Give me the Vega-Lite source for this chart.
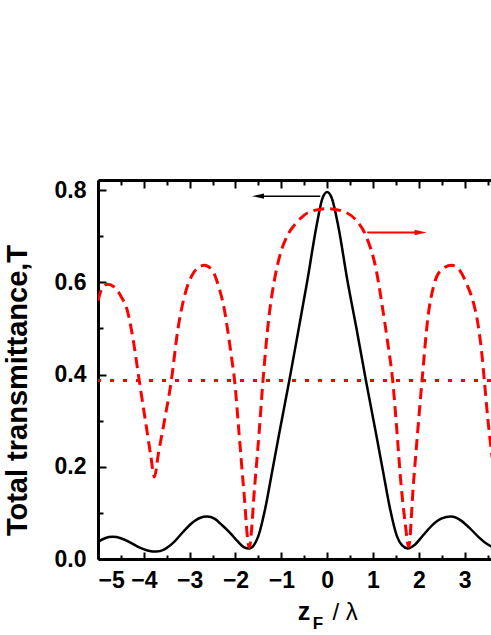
{
  "$schema": "https://vega.github.io/schema/vega-lite/v6.json",
  "width": 393,
  "height": 379,
  "autosize": {"type": "none"},
  "padding": {"left": 98, "top": 180, "right": 0, "bottom": 76},
  "background": "white",
  "config": {
    "view": {"stroke": null},
    "font": "Liberation Sans",
    "axis": {
      "grid": false,
      "ticks": true,
      "domainColor": "black",
      "domainWidth": 3,
      "tickColor": "black",
      "tickWidth": 2,
      "labelColor": "black",
      "labelFont": "Liberation Sans",
      "labelFontWeight": "bold",
      "labelFontSize": 23,
      "labelOverlap": false,
      "titleColor": "black",
      "titleFont": "Liberation Sans"
    }
  },
  "datasets": {
    "black": [
      {"z": -5.0, "T": 0.037}, {"z": -4.85, "T": 0.045}, {"z": -4.68, "T": 0.048}, {"z": -4.5, "T": 0.045},
      {"z": -4.3, "T": 0.036}, {"z": -4.1, "T": 0.025}, {"z": -3.9, "T": 0.018}, {"z": -3.73, "T": 0.016},
      {"z": -3.55, "T": 0.021}, {"z": -3.35, "T": 0.036}, {"z": -3.15, "T": 0.058}, {"z": -2.95, "T": 0.078},
      {"z": -2.78, "T": 0.089}, {"z": -2.62, "T": 0.092}, {"z": -2.45, "T": 0.087}, {"z": -2.3, "T": 0.074},
      {"z": -2.13, "T": 0.058}, {"z": -1.95, "T": 0.038}, {"z": -1.82, "T": 0.026}, {"z": -1.7, "T": 0.023},
      {"z": -1.6, "T": 0.03}, {"z": -1.5, "T": 0.05}, {"z": -1.35, "T": 0.11}, {"z": -1.2, "T": 0.19},
      {"z": -1.05, "T": 0.27}, {"z": -0.83, "T": 0.385}, {"z": -0.62, "T": 0.5}, {"z": -0.43, "T": 0.605},
      {"z": -0.24, "T": 0.718}, {"z": -0.1, "T": 0.783}, {"z": 0.0, "T": 0.796}, {"z": 0.1, "T": 0.783},
      {"z": 0.25, "T": 0.718}, {"z": 0.44, "T": 0.605}, {"z": 0.64, "T": 0.5}, {"z": 0.85, "T": 0.385},
      {"z": 1.07, "T": 0.27}, {"z": 1.22, "T": 0.19}, {"z": 1.37, "T": 0.11}, {"z": 1.52, "T": 0.05},
      {"z": 1.63, "T": 0.03}, {"z": 1.76, "T": 0.023}, {"z": 1.9, "T": 0.03}, {"z": 2.1, "T": 0.052},
      {"z": 2.3, "T": 0.074}, {"z": 2.5, "T": 0.088}, {"z": 2.7, "T": 0.092}, {"z": 2.9, "T": 0.085},
      {"z": 3.1, "T": 0.068}, {"z": 3.3, "T": 0.048}, {"z": 3.45, "T": 0.035}, {"z": 3.6, "T": 0.026}
    ],
    "red": [
      {"z": -5.0, "T": 0.56}, {"z": -4.92, "T": 0.585}, {"z": -4.79, "T": 0.596}, {"z": -4.65, "T": 0.59},
      {"z": -4.5, "T": 0.57}, {"z": -4.35, "T": 0.535}, {"z": -4.24, "T": 0.48}, {"z": -4.1, "T": 0.387},
      {"z": -3.95, "T": 0.29}, {"z": -3.85, "T": 0.225}, {"z": -3.77, "T": 0.178}, {"z": -3.68, "T": 0.23},
      {"z": -3.55, "T": 0.3}, {"z": -3.4, "T": 0.387}, {"z": -3.26, "T": 0.496}, {"z": -3.1, "T": 0.575},
      {"z": -2.95, "T": 0.615}, {"z": -2.8, "T": 0.633}, {"z": -2.68, "T": 0.637}, {"z": -2.5, "T": 0.625},
      {"z": -2.35, "T": 0.585}, {"z": -2.25, "T": 0.545}, {"z": -2.17, "T": 0.496}, {"z": -2.09, "T": 0.44},
      {"z": -2.02, "T": 0.387}, {"z": -1.92, "T": 0.27}, {"z": -1.82, "T": 0.15}, {"z": -1.7, "T": 0.025},
      {"z": -1.58, "T": 0.16}, {"z": -1.48, "T": 0.28}, {"z": -1.4, "T": 0.387}, {"z": -1.26, "T": 0.533},
      {"z": -1.15, "T": 0.605}, {"z": -1.04, "T": 0.655}, {"z": -0.85, "T": 0.705}, {"z": -0.68, "T": 0.728},
      {"z": -0.4, "T": 0.752}, {"z": 0.0, "T": 0.76}, {"z": 0.4, "T": 0.752}, {"z": 0.63, "T": 0.735},
      {"z": 0.85, "T": 0.7}, {"z": 1.07, "T": 0.627}, {"z": 1.2, "T": 0.55}, {"z": 1.32, "T": 0.47},
      {"z": 1.43, "T": 0.387}, {"z": 1.52, "T": 0.28}, {"z": 1.61, "T": 0.164}, {"z": 1.7, "T": 0.08},
      {"z": 1.78, "T": 0.027}, {"z": 1.88, "T": 0.16}, {"z": 1.97, "T": 0.27}, {"z": 2.07, "T": 0.387},
      {"z": 2.2, "T": 0.525}, {"z": 2.34, "T": 0.598}, {"z": 2.5, "T": 0.628}, {"z": 2.72, "T": 0.637},
      {"z": 2.9, "T": 0.625}, {"z": 3.05, "T": 0.595}, {"z": 3.18, "T": 0.56}, {"z": 3.29, "T": 0.51},
      {"z": 3.37, "T": 0.45}, {"z": 3.43, "T": 0.387}, {"z": 3.5, "T": 0.31}, {"z": 3.6, "T": 0.22}
    ],
    "dotted": [{"T": 0.387}]
  },
  "layer": [
    {
      "data": {"name": "black"},
      "mark": {"type": "line", "color": "black", "strokeWidth": 2.5, "interpolate": "monotone", "clip": true},
      "encoding": {
        "x": {
          "field": "z", "type": "quantitative",
          "scale": {"domain": [-5, 3.575], "nice": false, "zero": false},
          "axis": {
            "orient": "bottom",
            "title": null,
            "values": [-5, -4, -3, -2, -1, 0, 1, 2, 3],
            "format": "d",
            "tickSize": 7,
            "labelPadding": 3,
            "encoding": {"ticks": {"y2": {"value": -7}}}
          }
        },
        "y": {
          "field": "T", "type": "quantitative",
          "scale": {"domain": [0, 0.822], "nice": false, "zero": false},
          "axis": {
            "orient": "left",
            "title": "Total transmittance,T",
            "titleFontSize": 29,
            "titleFontWeight": "bold",
            "titlePadding": 22,
            "titleY": 210,
            "values": [0, 0.2, 0.4, 0.6, 0.8],
            "format": ".1f",
            "tickSize": 8,
            "labelPadding": 4,
            "encoding": {"ticks": {"x2": {"value": 8}}}
          }
        }
      }
    },
    {
      "data": {"name": "red"},
      "mark": {"type": "line", "color": "#ff0000", "strokeWidth": 3, "strokeDash": [11, 6], "interpolate": "monotone", "clip": true},
      "encoding": {
        "x": {
          "field": "z", "type": "quantitative",
          "axis": {
            "orient": "top",
            "title": null,
            "labels": false,
            "values": [-5, -4, -3, -2, -1, 0, 1, 2, 3],
            "tickSize": 8,
            "encoding": {"ticks": {"y2": {"value": 8}}}
          }
        },
        "y": {
          "field": "T", "type": "quantitative",
          "axis": {
            "orient": "left",
            "title": null,
            "labels": false,
            "domain": false,
            "values": [0.1, 0.3, 0.5, 0.7],
            "tickSize": 5,
            "encoding": {"ticks": {"x2": {"value": 5}}}
          }
        }
      }
    },
    {
      "data": {"name": "dotted"},
      "mark": {"type": "rule", "color": "#ff0000", "strokeWidth": 3, "strokeDash": [4, 9]},
      "encoding": {"y": {"field": "T", "type": "quantitative", "axis": null}}
    },
    {
      "data": {"values": [{}]},
      "mark": {"type": "rule", "color": "black", "strokeWidth": 1.5},
      "encoding": {
        "x": {"datum": -0.15, "type": "quantitative",
          "axis": {"orient": "bottom", "title": null, "labels": false, "domain": false,
                   "values": [-4.5, -3.5, -2.5, -1.5, -0.5, 0.5, 1.5, 2.5, 3.5], "tickSize": 4,
                   "encoding": {"ticks": {"y2": {"value": -4}}}}},
        "x2": {"datum": -1.5},
        "y": {"datum": 0.787, "type": "quantitative", "axis": null}
      }
    },
    {
      "data": {"values": [{}]},
      "mark": {"type": "point", "shape": "M0,0L2,-0.45L2,0.45Z", "filled": true, "color": "black", "size": 144, "opacity": 1},
      "encoding": {
        "x": {"datum": -1.64, "type": "quantitative", "axis": null},
        "y": {"datum": 0.787, "type": "quantitative", "axis": null}
      }
    },
    {
      "data": {"values": [{}]},
      "mark": {"type": "rule", "color": "#ff0000", "strokeWidth": 2},
      "encoding": {
        "x": {"datum": 0.875, "type": "quantitative",
          "axis": {"orient": "top", "title": null, "labels": false, "domain": false,
                   "values": [-4.5, -3.5, -2.5, -1.5, -0.5, 0.5, 1.5, 2.5, 3.5], "tickSize": 5,
                   "encoding": {"ticks": {"y2": {"value": 5}}}}},
        "x2": {"datum": 2.0},
        "y": {"datum": 0.708, "type": "quantitative", "axis": null}
      }
    },
    {
      "data": {"values": [{}]},
      "mark": {"type": "point", "shape": "M0,0L-2,-0.45L-2,0.45Z", "filled": true, "color": "#ff0000", "size": 144, "opacity": 1},
      "encoding": {
        "x": {"datum": 2.17, "type": "quantitative", "axis": null},
        "y": {"datum": 0.708, "type": "quantitative", "axis": null}
      }
    },
    {
      "data": {"values": [{}]},
      "mark": {"type": "text", "text": "z", "font": "Liberation Sans", "fontWeight": "bold", "fontSize": 25, "align": "left", "baseline": "alphabetic", "color": "black"},
      "encoding": {
        "x": {"datum": -0.641, "type": "quantitative", "axis": null},
        "y": {"datum": -0.1323, "type": "quantitative", "axis": null}
      }
    },
    {
      "data": {"values": [{}]},
      "mark": {"type": "text", "text": "F", "font": "Liberation Sans", "fontWeight": "bold", "fontSize": 17, "align": "left", "baseline": "alphabetic", "color": "black"},
      "encoding": {
        "x": {"datum": -0.314, "type": "quantitative", "axis": null},
        "y": {"datum": -0.1518, "type": "quantitative", "axis": null}
      }
    },
    {
      "data": {"values": [{}]},
      "mark": {"type": "text", "text": "/ λ", "font": "Liberation Sans", "fontWeight": "normal", "fontSize": 24, "align": "left", "baseline": "alphabetic", "color": "black"},
      "encoding": {
        "x": {"datum": 0.116, "type": "quantitative", "axis": null},
        "y": {"datum": -0.1323, "type": "quantitative", "axis": null}
      }
    }
  ],
  "resolve": {"axis": {"x": "independent", "y": "independent"}}
}
